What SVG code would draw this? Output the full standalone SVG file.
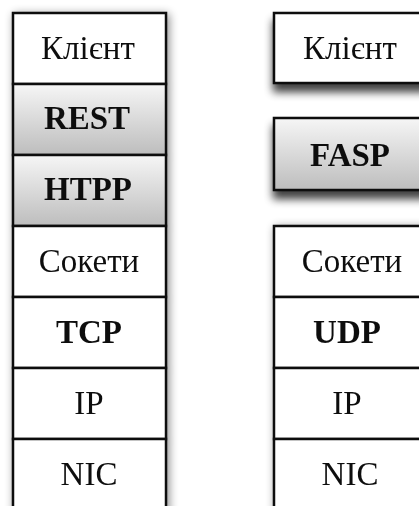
<svg xmlns="http://www.w3.org/2000/svg" width="419" height="506" viewBox="0 0 419 506">
<defs>
<linearGradient id="grad" x1="0" y1="0" x2="0" y2="1">
<stop offset="0" stop-color="#f6f6f6"/>
<stop offset="1" stop-color="#bdbdbd"/>
</linearGradient>
<filter id="softShadow" x="-20%" y="-20%" width="140%" height="140%">
<feGaussianBlur in="SourceAlpha" stdDeviation="5"/>
<feOffset dx="2" dy="2" result="b"/>
<feComponentTransfer><feFuncA type="linear" slope="0.45"/></feComponentTransfer>
<feMerge><feMergeNode/><feMergeNode in="SourceGraphic"/></feMerge>
</filter>
<filter id="dropShadow" x="-20%" y="-30%" width="140%" height="180%">
<feGaussianBlur in="SourceAlpha" stdDeviation="4"/>
<feOffset dx="0" dy="8" result="b"/>
<feComponentTransfer><feFuncA type="linear" slope="0.75"/></feComponentTransfer>
<feMerge><feMergeNode/><feMergeNode in="SourceGraphic"/></feMerge>
</filter>
</defs>
<style>
.box{fill:#ffffff;stroke:#111;stroke-width:2.5}
.gbox{fill:url(#grad);stroke:#111;stroke-width:2.5}
text{font-family:"Liberation Serif","Times New Roman",serif;font-size:33px;fill:#111;text-anchor:middle}
.b{font-weight:bold}
</style>
<rect width="419" height="506" fill="#ffffff"/>

<g id="left-stack" filter="url(#softShadow)">
<g id="l-client"><rect class="box" x="13" y="13" width="153" height="71"/><text x="88" y="59">Клієнт</text></g>
<g id="l-rest"><rect class="gbox" x="13" y="84" width="153" height="71"/><text class="b" x="87" y="129">REST</text></g>
<g id="l-http"><rect class="gbox" x="13" y="155" width="153" height="71"/><text class="b" x="88" y="200">HTPP</text></g>
<g id="l-sockets"><rect class="box" x="13" y="226" width="153" height="71"/><text x="89" y="272">Сокети</text></g>
<g id="l-tcp"><rect class="box" x="13" y="297" width="153" height="71"/><text class="b" x="89" y="343">TCP</text></g>
<g id="l-ip"><rect class="box" x="13" y="368" width="153" height="71"/><text x="89" y="414">IP</text></g>
<g id="l-nic"><rect class="box" x="13" y="439" width="153" height="75"/><text x="89" y="485">NIC</text></g>
</g>

<g id="r-client" filter="url(#dropShadow)"><rect class="box" x="274" y="13" width="153" height="70"/><text x="350" y="59">Клієнт</text></g>
<g id="r-fasp" filter="url(#dropShadow)"><rect class="gbox" x="274" y="118" width="153" height="72"/><text class="b" x="350" y="166">FASP</text></g>

<g id="right-stack" filter="url(#softShadow)">
<g id="r-sockets"><rect class="box" x="274" y="226" width="153" height="71"/><text x="352" y="272">Сокети</text></g>
<g id="r-udp"><rect class="box" x="274" y="297" width="153" height="71"/><text class="b" x="347" y="343">UDP</text></g>
<g id="r-ip"><rect class="box" x="274" y="368" width="153" height="71"/><text x="347" y="414">IP</text></g>
<g id="r-nic"><rect class="box" x="274" y="439" width="153" height="75"/><text x="350" y="485">NIC</text></g>
</g>

<g id="connectors"/>
</svg>
